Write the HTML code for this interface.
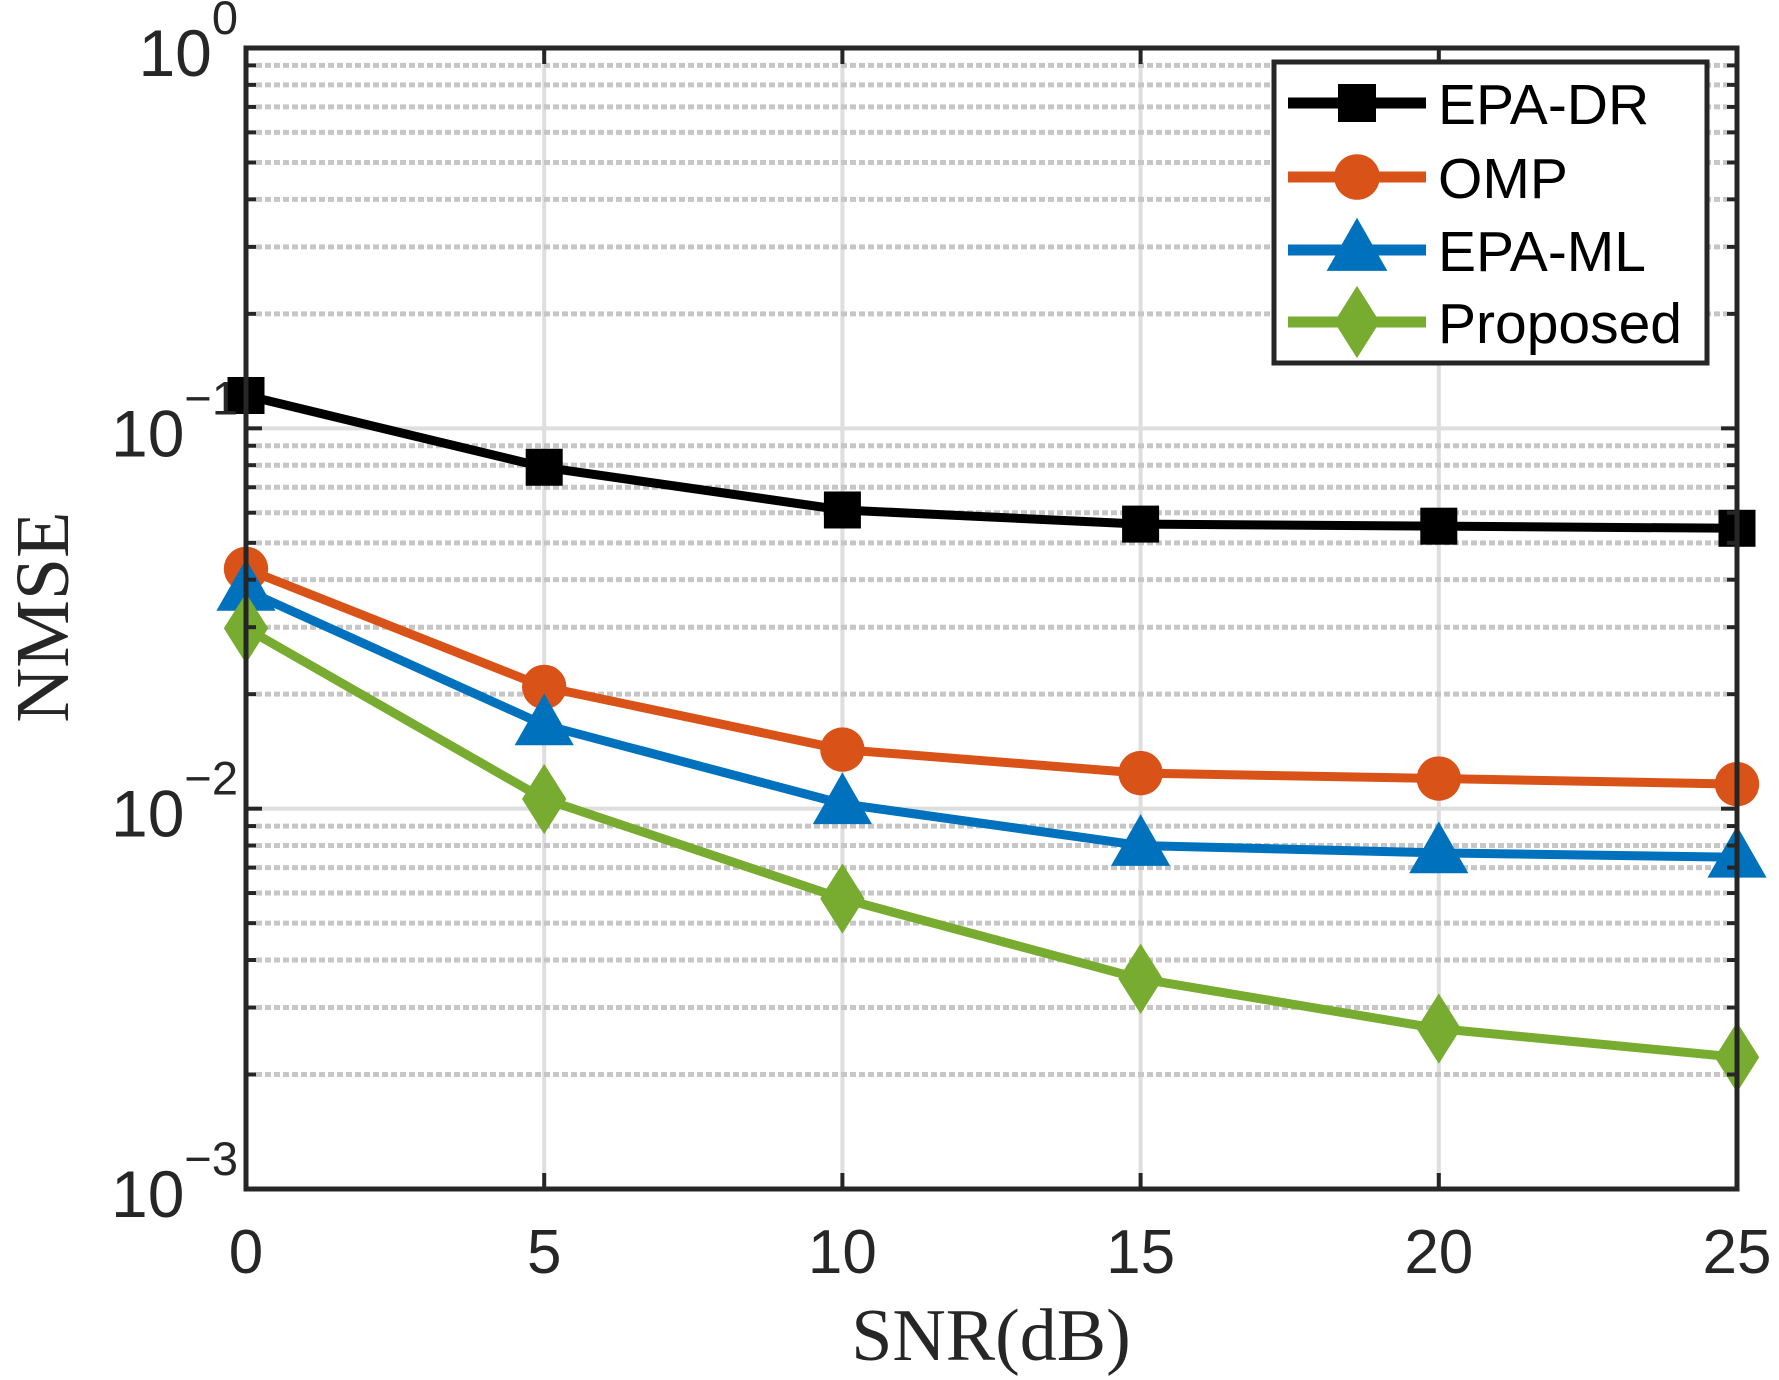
<!DOCTYPE html>
<html><head><meta charset="utf-8"><style>
html,body{margin:0;padding:0;background:#fff;}
svg{display:block;}
</style></head><body>
<svg id="chart" width="1779" height="1380" viewBox="0 0 1779 1380" xmlns="http://www.w3.org/2000/svg" font-family="'Liberation Sans', sans-serif">
<rect width="1779" height="1380" fill="#fff"/>
<g id="grid"></g>
<g id="series"></g>
<g id="axes"></g>
<text transform="translate(68,617) rotate(-90)" text-anchor="middle" font-family="'Liberation Serif', serif" font-size="76" fill="#262626">NMSE</text>
<text x="991" y="1360" text-anchor="middle" font-family="'Liberation Serif', serif" font-size="74" fill="#262626">SNR(dB)</text>
<g id="legend"></g>
</svg>
<script>
const snr = [0, 5, 10, 15, 20, 25];
const epaDR = [0.122, 0.079, 0.061, 0.056, 0.0553, 0.0546];
const omp = [0.0427, 0.0209, 0.0143, 0.0124, 0.0120, 0.0116];
const epaML = [0.0375, 0.0166, 0.0103, 0.0080, 0.00765, 0.00745];
const proposed = [0.0298, 0.0106, 0.0058, 0.00357, 0.00264, 0.00222];
const xTicks = [0, 5, 10, 15, 20, 25];
const yDecades = [0, -1, -2, -3];
const seriesNames = ['EPA-DR', 'OMP', 'EPA-ML', 'Proposed'];

const L = 246, R = 1737, T = 48, B = 1189;
const NS = 'http://www.w3.org/2000/svg';
function X(v){ return L + (v - 0) / 25 * (R - L); }
function Y(v){ return T + (0 - Math.log10(v)) / 3 * (B - T); }
function el(tag, attrs, parent){
  const e = document.createElementNS(NS, tag);
  for (const k in attrs) e.setAttribute(k, attrs[k]);
  parent.appendChild(e);
  return e;
}
const grid = document.getElementById('grid');
const axes = document.getElementById('axes');
const ser = document.getElementById('series');
const leg = document.getElementById('legend');

for (const t of xTicks){
  if (t === 0 || t === 25) continue;
  const g = el('line', {x1:X(t), x2:X(t), y1:T, y2:B, stroke:'#dedede', 'stroke-width':4}, grid);
  
  
}
for (let d = -3; d < 0; d++){
  for (let m = 1; m <= 9; m++){
    const v = m * Math.pow(10, d);
    const y = Y(v);
    if (m === 1){
      if (d === -3) continue;
      const g = el('line', {x1:L, x2:R, y1:y, y2:y, stroke:'#dedede', 'stroke-width':4}, grid);
      
      
    } else {
      const g = el('line', {x1:L+10, x2:R-10, y1:y, y2:y, stroke:'#c6c6c6', 'stroke-width':5, 'stroke-dasharray':'6 3'}, grid);
      
      
      const t1 = el('line', {x1:L, x2:L+10, y1:y, y2:y, stroke:'#262626', 'stroke-width':4}, axes);
      
      
      const t2 = el('line', {x1:R-10, x2:R, y1:y, y2:y, stroke:'#262626', 'stroke-width':4}, axes);
      
      
    }
  }
}

const box = el('rect', {x:L, y:T, width:R-L, height:B-T, fill:'none', stroke:'#262626', 'stroke-width':5}, axes);



for (const t of xTicks){
  const x = X(t);
  const a = el('line', {x1:x, x2:x, y1:B, y2:B-16, stroke:'#262626', 'stroke-width':4}, axes);
  
  
  const b = el('line', {x1:x, x2:x, y1:T, y2:T+16, stroke:'#262626', 'stroke-width':4}, axes);
  
  
  const tx = el('text', {x:x, y:1273, 'text-anchor':'middle', 'font-size':62, fill:'#262626'}, axes);
  tx.textContent = String(t);
  
  
}
for (const d of yDecades){
  const y = Y(Math.pow(10, d));
  const a = el('line', {x1:L, x2:L+16, y1:y, y2:y, stroke:'#262626', 'stroke-width':4}, axes);
  
  
  const b = el('line', {x1:R-16, x2:R, y1:y, y2:y, stroke:'#262626', 'stroke-width':4}, axes);
  
  
  const tx = el('text', {x:238, y:y+28, 'text-anchor':'end', 'font-size':66, fill:'#262626'}, axes);
  
  
  const base = document.createElementNS(NS, 'tspan');
  base.textContent = '10';
  tx.appendChild(base);
  const sup = document.createElementNS(NS, 'tspan');
  sup.setAttribute('dy', -42);
  sup.setAttribute('font-size', 47);
  sup.textContent = d === 0 ? '0' : '\u2212' + (-d);
  tx.appendChild(sup);
}

function marker(kind, x, y, color, parent, s){
  let m;
  if (kind === 'square') m = el('rect', {x:x-s*0.5, y:y-s*0.5, width:s, height:s, fill:color}, parent);
  else if (kind === 'circle') m = el('circle', {cx:x, cy:y, r:s*0.6, fill:color}, parent);
  else if (kind === 'triangle') m = el('polygon', {points:`${x},${y-s*0.85} ${x+s*0.8},${y+s*0.55} ${x-s*0.8},${y+s*0.55}`, fill:color}, parent);
  else m = el('polygon', {points:`${x},${y-s*0.95} ${x+s*0.6},${y} ${x},${y+s*0.95} ${x-s*0.6},${y}`, fill:color}, parent);
  return m;
}
const allSeries = [epaDR, omp, epaML, proposed];
const colors = ['#000000', '#d95319', '#0072bd', '#77ac30'];
const kinds = ['square', 'circle', 'triangle', 'diamond'];
const keys = ['epa-dr', 'omp', 'epa-ml', 'proposed'];
allSeries.forEach((vals, i) => {
  const g = el('g', {}, ser);
  
  
  const pts = vals.map((v, j) => X(snr[j]) + ',' + Y(v)).join(' ');
  const pl = el('polyline', {points:pts, fill:'none', stroke:colors[i], 'stroke-width':9, 'stroke-linejoin':'round'}, g);
  
  
  vals.forEach((v, j) => {
    const m = marker(kinds[i], X(snr[j]), Y(v), colors[i], g, 37);
    
    
  });
});

const lb = el('rect', {x:1274, y:62, width:433, height:301, fill:'#fff', stroke:'#262626', 'stroke-width':5}, leg);


const legY = [103, 177, 250, 322];
seriesNames.forEach((n, i) => {
  const g = el('g', {}, leg);
  
  
  el('line', {x1:1288, x2:1426, y1:legY[i], y2:legY[i], stroke:colors[i], 'stroke-width':11}, g);
  marker(kinds[i], 1357, legY[i], colors[i], g, 38);
  const t = el('text', {x:1438, y:legY[i]+21, 'font-size':57, fill:'#000'}, g);
  t.textContent = n;
});
</script>
</body></html>
